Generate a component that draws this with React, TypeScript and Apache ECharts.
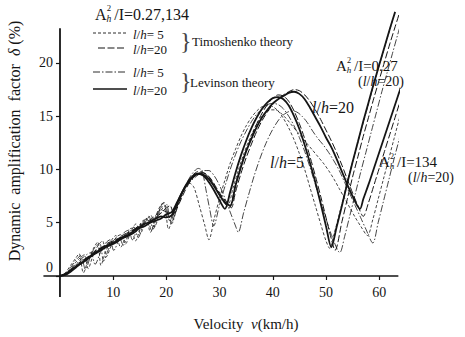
import React, { useEffect, useRef } from 'react';
import * as echarts from 'echarts';

type Pt = [number, number];

// ---- axis ticks ----
const xTickValues = [10, 20, 30, 40, 50, 60];
const yTickValues = [0, 5, 10, 15, 20];

// ---- A²h/I = 0.27 ----
const timo5_027: Pt[] = [[0,0],[1,0.3],[2,1.0],[3,1.7],[3.6,2.1],[4.4,0.3],[5.3,1.5],[6.3,2.6],[7.1,3.2],[7.7,1.0],[8.6,2.3],[9.6,3.3],[10.5,3.8],[11.4,2.7],[12.4,3.7],[13.4,4.5],[14.2,3.3],[15.2,4.6],[16.2,5.4],[17,4.1],[18,5.6],[19,6.7],[19.6,6.8],[20.4,4.4],[21.5,6.1],[22.5,7.3],[23.5,8.3],[24.4,8.7],[25.2,8.3],[26.2,6.6],[27.2,4.8],[28.0,3.4],[29,5.4],[30,7.3],[31,9.0],[32,10.6],[33,11.9],[34,13.1],[35,14.1],[36,14.9],[37,15.5],[38,15.9],[39,16.0],[40,15.9],[41,15.5],[42,14.8],[43,13.9],[44,12.8],[45,11.5],[46,10.0],[47,8.3],[48,6.6],[49,4.9],[50,3.3],[50.7,2.6],[51.5,3.9],[52.5,5.8],[53.5,7.8],[54.5,9.8],[55.5,11.6],[56.5,13.5],[57.5,15.3],[58.5,17.1],[59.5,18.9],[60.5,20.6],[61.5,22.3],[62.5,24.0]];
const timo20_027: Pt[] = [[0,0],[1,0.2],[2,0.6],[3,1.0],[4,1.4],[5,1.7],[6,2.1],[7,2.5],[8,2.7],[9,3.1],[10,3.3],[11,3.5],[12,3.9],[13,4.1],[14,4.4],[15,4.8],[16,5.0],[17,5.3],[18,5.7],[19,6.2],[20,6.0],[21,5.6],[22,6.5],[23,7.7],[24,8.8],[25,9.5],[26,9.8],[27,9.7],[28,9.3],[29,8.5],[30,7.6],[31,6.8],[31.8,6.4],[33,8.6],[34,10.3],[35,11.8],[36,13.1],[37,14.3],[38,15.3],[39,16.1],[40,16.7],[41,17.0],[42,16.9],[43,16.4],[44,15.5],[45,14.3],[46,12.9],[47,11.2],[48,9.4],[49,7.5],[50,5.5],[51,3.5],[51.7,2.4],[53,5.1],[54,7.2],[55,9.3],[56,11.2],[57,13.1],[58,14.9],[59,16.7],[60,18.4],[61,20.1],[62,21.8],[63,23.4],[64,25.0]];
const lev5_027: Pt[] = [[0,0],[1,0.2],[2,0.8],[3,1.5],[3.9,1.9],[4.8,0.6],[5.7,1.8],[6.7,2.8],[7.5,3.0],[8.2,1.4],[9.2,2.6],[10.2,3.4],[11.1,3.6],[11.9,2.9],[12.9,3.9],[13.9,4.6],[14.7,3.6],[15.7,4.9],[16.7,5.6],[17.5,4.4],[18.5,5.9],[19.5,6.9],[20.1,6.7],[21,4.9],[22,6.4],[23,7.8],[24,8.9],[25,9.7],[26,10.1],[26.7,9.9],[27.4,8.2],[28.1,6.4],[28.9,4.7],[30,6.7],[31,8.4],[32,10.0],[33,11.4],[34,12.6],[35,13.6],[36,14.5],[37,15.2],[38,15.7],[39,16.1],[40,16.2],[41,16.1],[42,15.7],[43,15.0],[44,14.1],[45,13.0],[46,11.7],[47,10.2],[48,8.6],[49,7.0],[50,5.4],[51,3.9],[52.6,2.2],[53.5,3.7],[54.5,5.7],[55.5,7.7],[56.5,9.7],[57.5,11.6],[58.5,13.5],[59.5,15.4],[60.5,17.3],[61.5,19.1],[62.5,20.9],[63.5,22.7],[64.5,24.4]];
const lev20_027: Pt[] = [[0,0],[1,0.2],[2,0.5],[3,0.9],[4,1.2],[5,1.6],[6,2.0],[7,2.3],[8,2.7],[9,2.9],[10,3.1],[11,3.4],[12,3.7],[13,3.9],[14,4.3],[15,4.6],[16,4.9],[17,5.1],[18,5.4],[19,5.6],[20,5.5],[21,5.7],[22,6.8],[23,7.9],[24,8.8],[25,9.4],[26,9.6],[27,9.4],[28,8.8],[29,8.0],[30,7.1],[31,6.3],[32,7.9],[33,9.7],[34,11.3],[35,12.7],[36,13.9],[37,14.9],[38,15.7],[39,16.3],[40,16.7],[41,16.8],[42,16.6],[43,16.0],[44,15.0],[45,13.8],[46,12.3],[47,10.6],[48,8.8],[49,6.8],[50,4.7],[51,2.7],[52,4.6],[53,6.6],[54,8.7],[55,10.7],[56,12.6],[57,14.5],[58,16.3],[59,18.1],[60,19.8],[61,21.5],[62,23.2],[63,24.8]];

// ---- A²h/I = 134 ----
const timo5_134: Pt[] = [[0,0],[1,0.2],[2,0.7],[3,1.3],[4,1.8],[4.6,2.0],[5.3,0.7],[6.2,1.9],[7.2,2.9],[8.0,3.3],[8.7,1.8],[9.7,2.9],[10.7,3.7],[11.6,3.9],[12.3,3.0],[13.3,4.1],[14.3,4.9],[15.1,4.0],[16.1,5.1],[17.1,5.7],[17.8,4.6],[18.8,6.0],[19.8,6.6],[20.6,5.2],[21.6,6.3],[22.6,7.4],[23.6,8.3],[24.6,9.0],[25.6,9.5],[26.6,9.6],[27.6,9.4],[28.6,8.8],[29.6,8.0],[30.6,7.3],[31.6,6.7],[32.5,8.2],[33.5,9.9],[34.5,11.4],[35.5,12.7],[36.5,13.8],[37.5,14.7],[38.5,15.3],[39.5,15.6],[40.5,15.6],[41.5,15.3],[42.5,14.8],[43.5,14.2],[44.5,13.6],[45.5,13.0],[46.5,12.4],[47.5,11.8],[48.5,11.2],[49.5,10.6],[50.5,9.9],[51.5,9.1],[52.5,8.2],[53.5,7.3],[54.5,6.4],[55.5,5.5],[56.5,4.7],[57.8,3.8],[58.8,5.3],[59.8,7.2],[60.8,9.1],[61.8,11.0],[62.8,12.9],[63.8,14.8],[64.8,16.6]];
const timo20_134: Pt[] = [[0,0],[1,0.2],[2,0.5],[3,0.9],[4,1.3],[5,1.7],[6,2.0],[7,2.4],[8,2.6],[9,3.0],[10,3.2],[11,3.5],[12,3.8],[13,4.0],[14,4.4],[15,4.7],[16,4.9],[17,5.2],[18,5.5],[19,5.9],[20,6.4],[20.7,6.6],[21.4,5.8],[22.4,6.8],[23.4,7.9],[24.4,8.8],[25.4,9.4],[26.4,9.7],[27.4,9.6],[28.4,9.1],[29.4,8.3],[30.4,7.5],[31.4,6.9],[32.2,6.4],[33,7.9],[34,9.6],[35,11.1],[36,12.4],[37,13.6],[38,14.6],[39,15.4],[40,16.1],[41,16.6],[42,17.0],[43,17.3],[44,17.5],[45,17.4],[46,17.0],[47,16.4],[48,15.6],[49,14.7],[50,13.7],[51,12.7],[52,11.6],[53,10.4],[54,9.1],[55,7.8],[56,6.6],[57,5.6],[58,6.9],[59,8.5],[60,10.1],[61,11.7],[62,13.3],[63,14.9],[64,16.5],[65,18.0]];
const lev5_134: Pt[] = [[0,0],[1,0.2],[2,0.6],[3,1.1],[4,1.6],[5,2.0],[5.8,2.2],[6.6,1.1],[7.6,2.2],[8.6,3.1],[9.4,3.4],[10.1,2.4],[11.1,3.4],[12.1,4.1],[12.9,4.3],[13.6,3.4],[14.6,4.5],[15.6,5.2],[16.4,5.3],[17.2,4.3],[18.2,5.6],[19.2,6.5],[20,6.2],[21,5.1],[22,6.6],[23,7.8],[24,8.6],[25,9.1],[26,9.5],[27,9.9],[28,9.9],[29,9.4],[30,8.5],[31,7.3],[32,6.0],[33,4.7],[33.5,4.1],[34.5,5.9],[35.5,7.7],[36.5,9.4],[37.5,10.9],[38.5,12.2],[39.5,13.3],[40.5,14.2],[41.5,14.9],[42.5,15.3],[43.5,15.5],[44.5,15.4],[45.5,15.0],[46.5,14.4],[47.5,13.6],[48.5,12.9],[49.5,12.3],[50.5,11.6],[51.5,10.8],[52.5,9.9],[53.5,8.8],[54.5,7.7],[55.5,6.6],[56.5,5.5],[57.5,4.4],[58.8,3.1],[59.8,5.0],[60.8,7.0],[61.8,9.0],[62.8,11.0],[63.8,12.9],[64.8,14.8]];
const lev20_134: Pt[] = [[0,0],[1,0.1],[2,0.4],[3,0.8],[4,1.2],[5,1.5],[6,1.9],[7,2.2],[8,2.5],[9,2.8],[10,3.0],[11,3.3],[12,3.6],[13,3.8],[14,4.1],[15,4.5],[16,4.7],[17,5.0],[18,5.2],[19,5.4],[20,5.8],[21,6.0],[22,6.9],[23,7.9],[24,8.7],[25,9.3],[26,9.6],[27,9.5],[28,9.1],[29,8.4],[30,7.6],[31,6.9],[32,6.6],[33,8.5],[34,10.2],[35,11.7],[36,12.9],[37,14.0],[38,14.9],[39,15.6],[40,16.2],[41,16.6],[42,16.9],[43,17.2],[44,17.3],[45,17.1],[46,16.6],[47,15.8],[48,14.9],[49,14.0],[50,13.0],[51,12.1],[52,11.0],[53,9.8],[54,8.6],[55,7.5],[56.4,6.3],[57,7.2],[58,8.6],[59,10.1],[60,11.6],[61,13.1],[62,14.6],[63,16.1],[64,17.6],[65,19.0]];

const INK = '#151515';
const SERIF = "'Liberation Serif', 'DejaVu Serif', serif";

const DASH_T5 = [3, 2];
const DASH_T20 = [7, 2.5];
const DASH_L5 = [7, 2, 1.5, 2];

const styleT5 = { color: INK, width: 0.8, type: DASH_T5 };
const styleT20 = { color: INK, width: 1.0, type: DASH_T20 };
const styleL5 = { color: INK, width: 0.8, type: DASH_L5 };
const styleL20 = { color: INK, width: 1.8, type: 'solid' };

const X_MIN = -3;
const X_MAX = 63.5;
const Y_MIN = 0;
const Y_MAX = 23.2;
const GRID_LEFT = 44;
const GRID_WIDTH = 353.8;
const GRID_TOP = 28.9;
const GRID_HEIGHT = 247.1;

function mkSeries(name: string, data: Pt[], lineStyle: any) {
  return {
    name,
    type: 'line',
    data,
    showSymbol: false,
    symbol: 'none',
    smooth: 0.3,
    clip: false,
    lineStyle,
    z: lineStyle.width > 1.5 ? 3 : 2,
  };
}

function txt(x: number, y: number, text: string, fs: number, extra: any = {}) {
  return {
    type: 'text',
    x,
    y,
    silent: true,
    style: {
      text,
      fill: INK,
      fontSize: fs,
      fontFamily: SERIF,
      align: 'left',
      verticalAlign: 'middle',
      textAlign: 'left',
      textVerticalAlign: 'middle',
      rich: {
        i: { fontStyle: 'italic', fontSize: fs, fontFamily: SERIF, fill: INK },
      },
      ...extra,
    },
  };
}

function ahLabel(x: number, y: number, rest: string, fs: number) {
  return [
    txt(x, y, 'A', fs),
    txt(x + fs * 0.74, y - fs * 0.36, '2', fs * 0.55),
    txt(x + fs * 0.72, y + fs * 0.27, 'h', fs * 0.6, { fontStyle: 'italic' }),
    txt(x + fs * 1.2, y, rest, fs),
  ];
}

function legendLine(x1: number, x2: number, y: number, w: number, dash: number[] | null) {
  return {
    type: 'line',
    silent: true,
    shape: { x1, y1: y, x2, y2: y },
    style: { stroke: INK, lineWidth: w, lineDash: dash || undefined },
  };
}

// y axis sits at v = 0: shift it from the grid's left edge by the span from X_MIN to 0
const yAxisOffset = -((0 - X_MIN) / (X_MAX - X_MIN)) * GRID_WIDTH;
const yAxisX = GRID_LEFT - yAxisOffset;
const xAxisY = GRID_TOP + GRID_HEIGHT;

const graphics: any[] = [
  // short extension of the vertical axis below the origin
  {
    type: 'line',
    silent: true,
    shape: { x1: yAxisX, y1: xAxisY, x2: yAxisX, y2: xAxisY + 21 },
    style: { stroke: INK, lineWidth: 1.8 },
  },
  ...ahLabel(95, 14, '/I=0.27,134', 16),
  legendLine(93, 126, 33, 0.9, DASH_T5),
  legendLine(98, 126, 48, 1.1, DASH_T20),
  legendLine(93, 127, 72, 0.9, DASH_L5),
  legendLine(93, 127, 89, 1.6, null),
  txt(133, 34, '{i|l}/{i|h}= 5', 13),
  txt(133, 49, '{i|l}/{i|h}=20', 13),
  txt(133, 72, '{i|l}/{i|h}= 5', 13),
  txt(133, 90, '{i|l}/{i|h}=20', 13),
  txt(180, 41, '}', 24, { fill: '#444' }),
  txt(180, 81, '}', 24, { fill: '#444' }),
  txt(192, 41, 'Timoshenko theory', 13),
  txt(190, 82, 'Levinson theory', 13),
  ...ahLabel(336, 66, '/I=0.27', 15),
  txt(358, 81.5, '({i|l}/{i|h}=20)', 14),
  txt(312, 107, '{i|l}/{i|h}=20', 16),
  txt(270, 162, '{i|l}/{i|h}=5', 16),
  ...ahLabel(379, 161.5, '/I=134', 15),
  txt(408, 177, '({i|l}/{i|h}=20)', 14),
  {
    type: 'text',
    x: 14,
    y: 141,
    rotation: Math.PI / 2,
    silent: true,
    style: {
      text: 'Dynamic  amplification  factor  {i|δ} (%)',
      fill: INK,
      fontSize: 16,
      fontFamily: SERIF,
      align: 'center',
      verticalAlign: 'middle',
      textAlign: 'center',
      textVerticalAlign: 'middle',
      rich: { i: { fontStyle: 'italic', fontSize: 16, fontFamily: SERIF, fill: INK } },
    },
  },
  {
    type: 'text',
    x: 246,
    y: 324,
    silent: true,
    style: {
      text: 'Velocity  {i|v}(km/h)',
      fill: INK,
      fontSize: 15,
      fontFamily: SERIF,
      align: 'center',
      verticalAlign: 'middle',
      textAlign: 'center',
      textVerticalAlign: 'middle',
      rich: { i: { fontStyle: 'italic', fontSize: 15, fontFamily: SERIF, fill: INK } },
    },
  },
];

const option: any = {
  animation: false,
  backgroundColor: '#ffffff',
  grid: {
    left: GRID_LEFT,
    top: GRID_TOP,
    width: GRID_WIDTH,
    height: GRID_HEIGHT,
    containLabel: false,
    outerBoundsMode: 'none',
  },
  xAxis: {
    type: 'value',
    min: X_MIN,
    max: X_MAX,
    axisLine: { show: true, onZero: false, lineStyle: { color: INK, width: 1.6 } },
    axisTick: { show: true, length: 4, customValues: xTickValues, lineStyle: { color: INK, width: 1.2 } },
    axisLabel: {
      customValues: xTickValues,
      color: INK,
      fontFamily: SERIF,
      fontSize: 14,
      margin: 9,
    },
    splitLine: { show: false },
  },
  yAxis: {
    type: 'value',
    min: Y_MIN,
    max: Y_MAX,
    offset: yAxisOffset,
    axisLine: { show: true, onZero: false, lineStyle: { color: INK, width: 1.8 } },
    axisTick: { show: true, length: 4, customValues: yTickValues, lineStyle: { color: INK, width: 1.2 } },
    axisLabel: {
      customValues: yTickValues,
      color: INK,
      fontFamily: SERIF,
      fontSize: 14,
      margin: 7,
      formatter: (v: number) => (v === 0 ? '{z|0}' : String(v)),
      rich: { z: { fontFamily: SERIF, fontSize: 14, color: INK, padding: [0, 0, 18, 0] } },
    },
    splitLine: { show: false },
  },
  series: [
    mkSeries('Timoshenko l/h=5 (0.27)', timo5_027, styleT5),
    mkSeries('Timoshenko l/h=20 (0.27)', timo20_027, styleT20),
    mkSeries('Levinson l/h=5 (0.27)', lev5_027, styleL5),
    mkSeries('Levinson l/h=20 (0.27)', lev20_027, styleL20),
    mkSeries('Timoshenko l/h=5 (134)', timo5_134, styleT5),
    mkSeries('Timoshenko l/h=20 (134)', timo20_134, styleT20),
    mkSeries('Levinson l/h=5 (134)', lev5_134, styleL5),
    mkSeries('Levinson l/h=20 (134)', lev20_134, styleL20),
  ],
  graphic: { elements: graphics },
};

export default function App() {
  const ref = useRef<HTMLDivElement>(null);
  useEffect(() => {
    const chart = echarts.init(ref.current!, null, { renderer: 'svg' });
    chart.setOption(option);
    return () => chart.dispose();
  }, []);
  return (
    <div
      ref={ref}
      style={{ position: 'absolute', left: 0, top: 0, width: 465, height: 337, background: '#fff' }}
    />
  );
}
